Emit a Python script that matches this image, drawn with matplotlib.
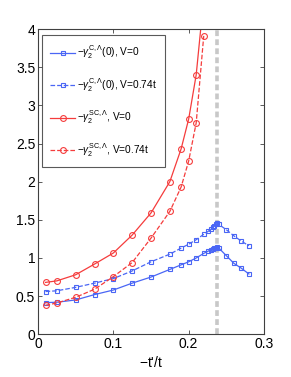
import matplotlib
matplotlib.use("Agg")
import matplotlib.pyplot as plt

plt.rcParams["font.family"] = ["Liberation Sans", "DejaVu Sans"]
plt.rcParams["mathtext.fontset"] = "custom"
plt.rcParams["mathtext.rm"] = "Liberation Sans"
plt.rcParams["mathtext.it"] = "Liberation Sans:italic"

# -t'/t values
x_c = [0.01, 0.025, 0.05, 0.075, 0.1, 0.125, 0.15, 0.175, 0.19, 0.2, 0.21, 0.22,
       0.226, 0.23, 0.232, 0.234, 0.236, 0.238, 0.24, 0.25, 0.26, 0.27, 0.28]
gc_v0 = [0.415, 0.42, 0.45, 0.52, 0.58, 0.67, 0.75, 0.85, 0.91, 0.95, 1.00, 1.06,
         1.09, 1.11, 1.12, 1.13, 1.135, 1.14, 1.13, 1.03, 0.93, 0.865, 0.79]
gc_v74 = [0.56, 0.57, 0.615, 0.67, 0.73, 0.83, 0.95, 1.05, 1.13, 1.18, 1.24, 1.31,
          1.35, 1.38, 1.40, 1.42, 1.44, 1.455, 1.44, 1.37, 1.29, 1.22, 1.16]

x_sc = [0.01, 0.025, 0.05, 0.075, 0.1, 0.125, 0.15, 0.175, 0.19, 0.2, 0.21, 0.22]
gsc_v0 = [0.68, 0.70, 0.78, 0.92, 1.065, 1.30, 1.59, 2.0, 2.43, 2.82, 3.40, 4.4]
gsc_v74 = [0.38, 0.41, 0.485, 0.59, 0.755, 0.94, 1.26, 1.61, 1.93, 2.27, 2.77, 3.91]

x_crit = 0.237

blue = "#4a66f5"
red = "#f53c3c"

fig = plt.figure(figsize=(2.91, 3.77), dpi=100)
ax = fig.add_axes([0.1306, 0.1133, 0.7766, 0.8097])

ax.axvline(x_crit, color="#c8c8c8", lw=2.6, ls=(0, (1.6, 0.9)), zorder=1)

ax.plot(x_c, gc_v0, "-s", color=blue, lw=0.9, ms=3.5, mfc="none", mew=0.8,
        label=r"$-\gamma_2^{\mathrm{C},\Lambda}(0)$, V=0")
ax.plot(x_c, gc_v74, "--s", color=blue, lw=0.9, ms=3.5, mfc="none", mew=0.8,
        label=r"$-\gamma_2^{\mathrm{C},\Lambda}(0)$, V=0.74t")
ax.plot(x_sc, gsc_v0, "-o", color=red, lw=0.9, ms=4.2, mfc="none", mew=0.8,
        label=r"$-\gamma_2^{\mathrm{SC},\Lambda}$, V=0")
ax.plot(x_sc, gsc_v74, "--o", color=red, lw=0.9, ms=4.2, mfc="none", mew=0.8,
        label=r"$-\gamma_2^{\mathrm{SC},\Lambda}$, V=0.74t")

ax.set_xlim(0, 0.3)
ax.set_ylim(0, 4)
ax.set_xticks([0, 0.1, 0.2, 0.3])
ax.set_xticklabels(["0", "0.1", "0.2", "0.3"])
ax.set_yticks([0, 0.5, 1, 1.5, 2, 2.5, 3, 3.5, 4])
ax.set_yticklabels(["0", "0.5", "1", "1.5", "2", "2.5", "3", "3.5", "4"])
ax.tick_params(direction="in", top=True, right=True, labelsize=10, length=3,
               width=0.6, color="#404040", pad=2)
for s in ax.spines.values():
    s.set_linewidth(0.8)
    s.set_color("#404040")

ax.set_xlabel(r"$-$t'/t", fontsize=10, labelpad=3)

leg = ax.legend(loc="upper left", fontsize=7.3, frameon=True, fancybox=False,
                edgecolor="#303030", handlelength=2.4, handletextpad=0.2,
                labelspacing=1.45, borderpad=0.8, borderaxespad=0.0,
                bbox_to_anchor=(0.019, 0.98))
leg.get_frame().set_linewidth(0.8)

fig.savefig("out.png", dpi=100)
